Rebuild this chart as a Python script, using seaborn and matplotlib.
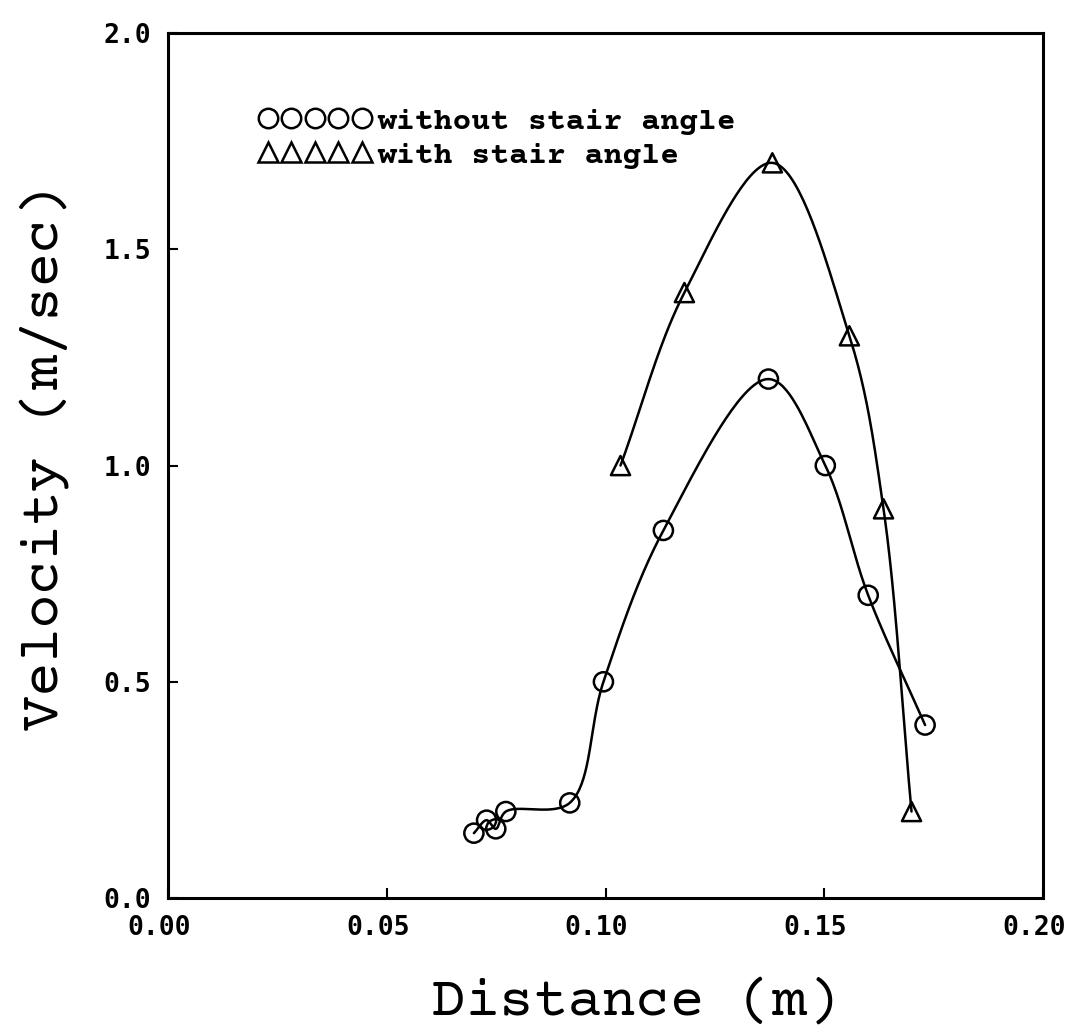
import numpy as np
import matplotlib
matplotlib.use("Agg")
import matplotlib.pyplot as plt
import matplotlib.transforms as mtrans
import seaborn as sns
from matplotlib.lines import Line2D

# without stair angle (circles)
dist_plain = [0.0699, 0.0728, 0.0749, 0.0772, 0.0918, 0.0995, 0.1132, 0.1372, 0.1502, 0.1600, 0.1730]
vel_plain = [0.15, 0.18, 0.16, 0.20, 0.22, 0.50, 0.85, 1.20, 1.00, 0.70, 0.40]

# with stair angle (triangles)
dist_stair = [0.1034, 0.1180, 0.1381, 0.1557, 0.1635, 0.1699]
vel_stair = [1.00, 1.40, 1.70, 1.30, 0.90, 0.20]

x_ticks = [0.00, 0.05, 0.10, 0.15, 0.20]
x_labels = ["0.00", "0.05", "0.10", "0.15", "0.20"]
y_ticks = [0.0, 0.5, 1.0, 1.5, 2.0]
y_labels = ["0.0", "0.5", "1.0", "1.5", "2.0"]


def smooth(xs, ys, n=40):
    # centripetal catmull-rom through the measured points
    p = np.column_stack([np.asarray(xs) / 0.2, np.asarray(ys) / 2.0])
    p = np.vstack([2 * p[0] - p[1], p, 2 * p[-1] - p[-2]])
    out = []
    for i in range(1, len(p) - 2):
        p0, p1, p2, p3 = p[i - 1], p[i], p[i + 1], p[i + 2]
        t0 = 0.0
        t1 = t0 + np.linalg.norm(p1 - p0) ** 0.5
        t2 = t1 + np.linalg.norm(p2 - p1) ** 0.5
        t3 = t2 + np.linalg.norm(p3 - p2) ** 0.5
        t = np.linspace(t1, t2, n)[:, None]
        a1 = (t1 - t) / (t1 - t0) * p0 + (t - t0) / (t1 - t0) * p1
        a2 = (t2 - t) / (t2 - t1) * p1 + (t - t1) / (t2 - t1) * p2
        a3 = (t3 - t) / (t3 - t2) * p2 + (t - t2) / (t3 - t2) * p3
        b1 = (t2 - t) / (t2 - t0) * a1 + (t - t0) / (t2 - t0) * a2
        b2 = (t3 - t) / (t3 - t1) * a2 + (t - t1) / (t3 - t1) * a3
        c = (t2 - t) / (t2 - t1) * b1 + (t - t1) / (t2 - t1) * b2
        out.append(c)
    c = np.vstack(out)
    return c[:, 0] * 0.2, c[:, 1] * 2.0


sns.set_style("white")
plt.rcParams["font.family"] = ["Courier Prime", "Liberation Mono", "DejaVu Sans Mono"]
for k in ["text.color", "axes.labelcolor", "xtick.color", "ytick.color", "axes.edgecolor"]:
    plt.rcParams[k] = "black"

fig = plt.figure(figsize=(10.70, 10.34), dpi=100)
ax = fig.add_axes([0.157, 0.1315, 0.818, 0.8365])

lw = 1.8
for xs, ys, mk, size in [(dist_plain, vel_plain, "o", 190), (dist_stair, vel_stair, "^", 190)]:
    sx, sy = smooth(xs, ys)
    sns.lineplot(x=sx, y=sy, sort=False, estimator=None, color="black", lw=lw, ax=ax)
    sns.scatterplot(x=xs, y=ys, marker=mk, s=size, color="black",
                    facecolors="none", edgecolor="black", linewidth=lw, ax=ax, zorder=3)

ax.set_xlim(0, 0.2)
ax.set_ylim(0, 2.0)
ax.set_xticks(x_ticks)
ax.set_xticklabels(x_labels)
ax.set_yticks(y_ticks)
ax.set_yticklabels(y_labels)
ax.tick_params(direction="in", length=7, width=1.5, pad=12,
               bottom=True, left=True, top=False, right=False)
# x labels sit a little left of their ticks in the original
shift = mtrans.ScaledTranslation(-9 / 100, 0, fig.dpi_scale_trans)
for tk in ax.xaxis.get_major_ticks():
    tk.label1.set_transform(tk.label1.get_transform() + shift)
for lab in ax.get_xticklabels() + ax.get_yticklabels():
    lab.set_fontfamily("DejaVu Sans Mono")
    lab.set_fontweight("bold")
    lab.set_fontsize(19)
for s in ax.spines.values():
    s.set_linewidth(2.2)
    s.set_color("black")

ax.set_xlabel("Distance (m)", fontsize=41, fontfamily="Courier Prime")
ax.set_ylabel("Velocity (m/sec)", fontsize=41, fontfamily="Courier Prime")
ax.xaxis.set_label_coords(0.534, -0.092)
ax.yaxis.set_label_coords(-0.113, 0.51)

handles = [
    Line2D([], [], ls="none", marker="o", mfc="none", mec="black", ms=14, mew=lw),
    Line2D([], [], ls="none", marker="^", mfc="none", mec="black", ms=14, mew=lw),
]
ax.legend(handles, ["without stair angle", "with stair angle"], numpoints=5,
          loc="upper left", bbox_to_anchor=(0.103, 0.915), frameon=False,
          borderpad=0, borderaxespad=0, handlelength=3.6, handletextpad=0.2,
          labelspacing=0.22, prop={"family": "Courier Prime", "weight": "bold", "size": 22.6})

fig.savefig("out.png", dpi=100)
